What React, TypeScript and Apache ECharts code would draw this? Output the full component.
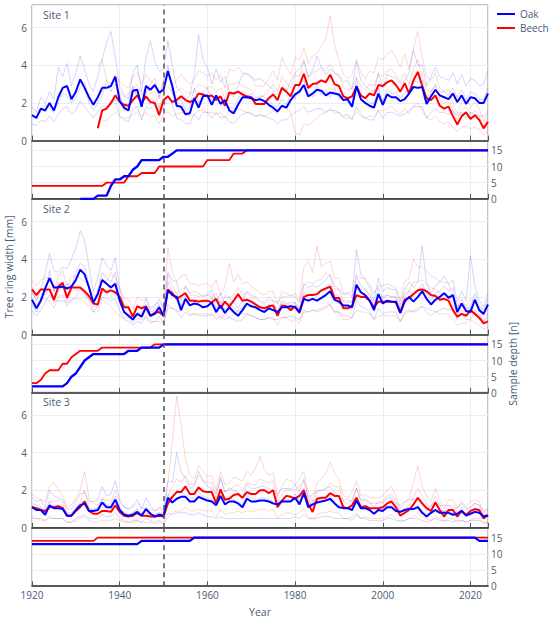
import React, { useEffect, useRef } from "react";
import * as echarts from "echarts";

// ---------- axis / labels ----------
const X_MIN = 1920;
const X_MAX = 2024;
const X_INTERVAL = 20;
const RING_MAX = 7.2;
const DEPTH_MAX = 18;
const SITE_NAMES = ["Site 1", "Site 2", "Site 3"];
const SPECIES = ["Oak", "Beech"];
const MARKER_YEAR = 1950;

// ---------- mean ring width series ----------
const site1OakStart = 1920;
const site1OakMean = [
  1.36, 1.2, 1.7, 1.6, 2.0, 1.6, 2.3, 2.8, 2.9, 2.2,
  2.6, 3.25, 2.8, 2.3, 1.9, 2.3, 2.8, 2.8, 2.9, 3.4,
  2.1, 1.75, 1.6, 2.65, 2.7, 1.8, 2.9, 2.7, 2.95, 2.55,
  2.7, 3.7, 2.9, 1.85, 1.8, 1.4, 1.45, 2.25, 1.75, 2.35,
  2.4, 1.9, 2.4, 1.95, 2.15, 1.6, 1.45, 1.9, 2.3, 2.3,
  2.25, 2.15, 2.2, 2.1, 1.9, 1.75, 1.55, 1.85, 1.75, 2.15,
  2.45, 2.6, 2.95, 2.35, 2.5, 2.7, 2.65, 2.4, 2.55, 2.5,
  2.45, 2.15, 2.2, 1.8, 2.9, 2.2, 2.0, 1.85, 1.75, 2.5,
  1.9, 2.45, 2.3, 2.3, 2.1, 2.2, 2.5, 2.85, 2.8, 2.85,
  1.95, 2.35, 2.7, 2.4, 2.3, 2.2, 2.5, 2.05, 2.4, 1.95,
  2.3, 2.25, 2.0, 2.0, 2.5,
];
const site1BeechStart = 1935;
const site1BeechMean = [
  0.65, 1.6, 1.7, 2.0, 2.4,
  2.05, 1.9, 1.85, 2.15, 2.4, 2.0, 2.35, 2.05, 2.0, 1.35,
  2.15, 2.35, 2.05, 2.15, 2.35, 2.15, 2.05, 2.15, 2.5, 2.45,
  2.35, 2.4, 2.15, 2.35, 1.85, 2.55, 2.5, 2.6, 2.45, 2.35,
  2.3, 1.95, 1.95, 1.95, 2.25, 2.45, 2.15, 2.8, 2.6, 2.35,
  2.95, 2.95, 3.55, 2.8, 3.0, 3.05, 3.2, 3.1, 3.5, 3.0,
  2.9, 2.35, 2.25, 2.35, 2.85, 2.4, 2.25, 2.5, 2.4, 2.95,
  2.9, 3.1, 3.2, 2.95, 2.6, 3.05, 2.5, 3.2, 3.65, 2.9,
  2.25, 2.15, 2.4, 1.85, 1.7, 1.8, 1.3, 0.85, 1.3, 1.5,
  1.15, 1.35, 1.1, 0.65, 1.0,
];
const site2OakStart = 1920;
const site2OakMean = [
  1.85, 1.4, 1.8, 2.45, 3.0, 2.5, 2.5, 2.55, 2.45, 2.55,
  2.9, 3.45, 3.2, 2.5, 1.7, 2.15, 2.9, 2.7, 2.5, 2.7,
  1.8, 1.2, 1.0, 0.8, 1.1, 0.95, 1.45, 1.0, 1.1, 1.45,
  1.0, 2.35, 2.1, 2.0, 1.3, 1.9, 1.55, 1.65, 1.6, 1.45,
  1.5, 1.7, 1.2, 1.55, 1.15, 1.45, 1.2, 1.0, 1.3, 1.65,
  1.5, 1.45, 1.3, 1.2, 1.4, 1.3, 1.2, 1.45, 1.45, 1.5,
  1.45, 1.2, 1.9, 1.8, 1.9, 1.8, 1.95, 2.1, 2.3, 1.85,
  1.75, 1.55, 1.55, 1.45, 2.65, 2.25, 2.1, 1.8, 1.3, 2.15,
  1.65, 1.8, 1.75, 1.75, 1.15, 1.75, 2.0, 1.75, 2.0, 2.3,
  1.9, 1.6, 1.85, 2.0, 2.2, 1.95, 2.1, 1.2, 1.65, 1.25,
  1.2, 1.85, 1.3, 1.1, 1.6,
];
const site2BeechStart = 1920;
const site2BeechMean = [
  2.4, 2.1, 2.4, 2.4, 2.4, 1.85, 2.55, 2.75, 1.95, 2.5,
  2.5, 2.5, 2.3, 2.05, 1.65, 1.6, 2.45, 2.25, 2.35, 2.25,
  2.0, 1.45, 1.45, 0.95, 1.5, 1.4, 1.5, 1.0, 1.15, 1.2,
  1.0, 2.4, 2.2, 1.9, 2.05, 2.2, 1.8, 1.8, 1.75, 1.8,
  1.8, 1.7, 1.9, 1.4, 1.75, 1.5, 1.8, 2.15, 1.8, 1.85,
  1.75, 1.6, 1.45, 1.4, 1.5, 1.55, 1.0, 1.55, 1.5, 1.3,
  1.5, 1.15, 2.0, 2.1, 2.1, 2.15, 2.35, 2.45, 2.55, 1.95,
  1.95, 1.4, 1.4, 1.5, 2.1, 2.0, 2.0, 1.8, 1.45, 1.75,
  1.75, 1.75, 1.75, 1.7, 1.15, 1.85, 1.95, 2.15, 2.35, 2.4,
  2.3, 2.1, 2.05, 1.85, 1.9, 1.8, 1.3, 0.95, 1.1, 1.0,
  1.3, 1.1, 0.9, 0.6, 0.7,
];
const site3OakStart = 1920;
const site3OakMean = [
  1.1, 0.95, 0.95, 0.7, 1.2, 1.05, 1.05, 1.0, 0.65, 0.65,
  0.95, 1.2, 1.3, 0.9, 0.9, 0.95, 1.35, 1.1, 1.1, 1.5,
  0.95, 0.7, 0.65, 0.7, 0.85, 0.65, 1.0, 0.75, 0.6, 0.7,
  0.65, 1.6, 1.35, 1.55, 1.65, 1.65, 1.4, 1.4, 1.65, 1.55,
  1.45, 1.4, 1.2, 1.7, 1.25, 1.4, 1.4, 1.3, 1.1, 1.55,
  1.4, 1.4, 1.45, 1.45, 1.4, 1.3, 1.25, 1.4, 1.4, 1.4,
  1.6, 1.25, 1.85, 1.1, 1.25, 1.35, 1.4, 1.45, 1.55, 1.3,
  1.1, 1.05, 1.05, 0.95, 1.45, 1.05, 1.05, 0.95, 0.75, 0.95,
  0.9, 1.1, 1.1, 0.9, 0.85, 0.95, 1.0, 1.0, 1.1, 0.8,
  0.6, 0.8, 0.95, 0.8, 0.8, 0.8, 0.7, 0.75, 0.9, 0.65,
  0.75, 0.85, 0.8, 0.6, 0.65,
];
const site3BeechStart = 1920;
const site3BeechMean = [
  1.1, 1.05, 0.95, 0.9, 1.1, 1.1, 1.15, 1.05, 0.65, 0.65,
  0.9, 1.1, 1.4, 0.9, 0.75, 0.75, 0.9, 0.9, 0.85, 1.2,
  0.85, 0.65, 0.6, 0.65, 0.8, 0.65, 0.65, 0.6, 0.6, 0.65,
  0.6, 1.3, 1.65, 1.9, 1.9, 2.2, 1.8, 1.8, 2.15, 1.95,
  1.9, 1.9, 1.3, 2.05, 1.5, 1.55, 1.75, 1.8, 1.6, 1.9,
  1.8, 1.8, 2.0, 2.0, 1.85, 2.0, 1.1, 1.45, 1.7, 1.65,
  1.55, 1.7, 2.0, 1.25, 0.85, 1.55, 1.6, 1.6, 1.85, 1.7,
  1.7, 1.1, 1.05, 1.2, 1.6, 1.1, 1.15, 1.05, 1.05, 1.05,
  1.1, 1.3, 1.4, 1.1, 0.65, 0.8, 0.95, 1.25, 1.6, 1.3,
  1.05, 0.9, 1.35, 0.95, 0.6, 0.95, 0.95, 0.6, 0.9, 0.7,
  0.9, 1.0, 0.95, 0.5, 0.7,
];

// ---------- individual trees (faint lines) ----------
const site1OakTreeStarts = [1920, 1920, 1920];
const site1OakTrees = [
  [1.8,1.5,2.3,2.0,2.6,2.2,3.9,3.4,4.1,2.9, 3.6,4.5,3.8,3.0,2.6,3.4,4.3,5.2,5.8,4.4, 2.9,2.4,2.2,3.6,4.0,2.6,4.4,5.3,4.2,3.7, 3.8,5.3,4.0,2.8,2.6,2.2,2.4,3.5,5.6,4.3, 3.9,3.0,3.8,3.1,3.4,2.6,2.3,2.9,3.5,3.6, 3.4,3.2,3.3,3.1,2.9,2.7,2.4,2.8,2.6,3.2, 3.6,3.8,4.3,3.4,3.7,4.5,3.9,3.5,3.8,3.6, 3.5,3.1,3.2,2.7,4.2,3.2,2.9,2.7,2.6,3.6, 2.8,3.5,3.4,3.3,3.0,3.2,3.6,4.8,4.0,4.0, 2.9,3.4,3.9,3.4,3.3,3.2,3.6,3.0,3.5,2.9, 3.3,3.2,2.9,3.0,3.7],
  [0.9,0.8,1.1,1.0,1.3,1.0,1.4,1.7,1.8,1.4, 1.6,2.1,1.8,1.5,1.2,1.5,1.8,1.8,1.9,2.2, 1.3,1.1,1.0,1.7,1.8,1.1,1.8,1.7,1.9,1.6, 1.7,2.4,1.9,1.2,1.1,0.9,0.9,1.4,1.1,1.5, 1.5,1.2,1.5,1.2,1.3,1.0,0.9,1.2,1.4,1.5, 1.4,1.3,1.4,1.3,1.2,1.1,0.9,1.1,1.1,1.3, 1.5,1.6,1.8,1.5,1.6,1.7,1.7,1.5,1.6,1.6, 1.5,1.3,1.4,1.1,1.8,1.4,1.2,1.1,1.1,1.6, 1.2,1.5,1.5,1.4,1.3,1.4,1.6,1.8,1.8,1.8, 1.2,1.5,1.7,1.5,1.5,1.4,1.6,1.3,1.5,1.2, 1.5,1.4,1.3,1.3,1.6],
  [1.2,1.3,1.5,1.9,1.7,1.5,2.0,2.5,2.4,2.0, 2.3,2.8,3.1,2.0,1.6,2.0,2.4,3.2,2.6,3.0, 2.5,1.6,1.9,2.9,2.3,2.1,2.5,3.0,3.3,2.3, 3.2,4.0,2.5,2.0,2.2,1.6,1.8,2.8,2.0,2.6, 2.8,2.1,2.2,2.3,1.9,1.8,1.7,2.2,2.6,2.2, 2.5,2.0,2.4,2.3,2.1,1.9,1.8,2.2,1.9,2.5, 2.2,2.9,3.2,2.6,2.3,3.0,2.4,2.7,2.3,2.8, 2.2,2.4,2.0,2.0,3.3,2.4,2.3,2.0,2.0,2.8, 2.1,2.7,2.5,2.5,2.3,2.5,2.7,3.2,3.1,3.2, 2.2,2.6,3.0,2.6,2.6,2.4,2.8,2.3,2.7,2.2, 2.6,2.5,2.2,2.2,2.8],
];
const site1BeechTreeStarts = [1935, 1936, 1940];
const site1BeechTrees = [
  [3.9,4.3,3.2,3.0,3.5, 3.1,2.9,2.8,3.4,3.6,3.0,3.5,3.2,3.0,2.2, 3.2,3.5,3.0,3.2,3.5,3.2,3.0,3.2,3.7,3.6, 3.4,3.6,3.2,3.5,2.8,3.8,3.7,3.9,3.6,3.5, 3.4,2.9,2.9,2.9,3.3,3.7,3.2,4.4,3.9,3.5, 4.4,4.3,4.9,4.1,4.5,4.6,5.0,5.4,6.6,5.1, 4.3,3.5,3.3,3.5,4.3,3.6,3.3,3.7,3.6,4.4, 4.3,4.6,4.8,4.4,3.9,4.6,3.8,4.9,5.8,4.4, 3.4,3.2,3.6,2.8,2.6,2.7,2.0,1.4,2.0,2.2, 1.8,2.0,1.7,1.0,1.5],
  [1.0,1.1,1.3,1.5, 1.3,1.2,1.2,1.4,1.5,1.3,1.5,1.3,1.3,0.9, 1.4,1.5,1.3,1.4,1.5,1.4,1.3,1.4,1.6,1.6, 1.5,1.5,1.4,1.5,1.2,1.6,1.6,1.7,1.6,1.5, 1.5,1.3,1.3,1.3,1.4,1.6,1.4,1.8,1.7,1.5, 0.4,0.3,0.9,0.8,1.0,1.2,1.4,1.5,1.7,1.5, 1.5,1.2,1.2,1.2,1.5,1.3,1.2,1.3,1.3,1.6, 1.6,1.7,1.8,1.6,1.4,1.7,1.4,1.8,2.0,1.6, 1.2,1.1,1.3,1.0,0.9,1.0,0.7,0.5,0.7,0.8, 0.6,0.7,0.6,0.3,0.5],
  [2.6,2.3,2.5,2.7,3.0,2.4,2.9,2.5,2.6,1.7, 2.6,2.9,2.5,2.6,2.8,2.6,2.5,2.6,3.0,2.9, 2.8,2.9,2.6,2.8,2.2,3.0,3.0,3.1,2.9,2.8, 2.7,2.3,2.3,2.4,2.7,3.0,2.6,3.4,3.1,2.8, 3.5,3.4,4.2,3.3,3.6,3.7,3.9,3.7,4.1,3.6, 3.4,2.8,2.7,2.8,3.4,2.9,2.7,3.0,2.9,3.5, 3.4,3.7,3.8,3.5,3.1,3.6,3.0,3.8,4.3,3.4, 2.7,2.6,2.9,2.2,2.0,2.1,1.6,1.1,1.6,1.8, 1.4,1.6,1.3,0.8,1.2],
];
const site2OakTreeStarts = [1920, 1920, 1920];
const site2OakTrees = [
  [2.3,1.8,2.4,3.3,4.3,3.4,3.3,3.6,3.5,4.0, 4.6,5.5,5.0,3.6,2.3,3.0,4.1,3.7,3.4,4.1, 2.4,1.6,1.3,1.1,1.5,1.3,1.9,1.3,1.5,1.9, 1.4,3.3,2.9,2.8,1.8,2.6,2.2,2.3,2.2,2.0, 2.1,2.4,1.7,2.2,1.6,2.0,1.7,1.4,1.8,2.3, 2.1,2.0,1.8,1.7,2.0,1.8,1.7,2.0,2.0,2.1, 2.0,1.7,2.7,2.5,2.6,2.5,2.7,2.9,3.2,2.6, 2.4,2.1,2.2,2.0,4.5,3.2,2.9,2.5,1.8,3.0, 2.3,2.5,2.4,2.4,1.6,2.4,2.8,2.5,2.8,4.7, 2.7,2.2,2.6,2.8,3.1,2.7,2.9,1.7,2.3,1.8, 4.2,2.6,1.8,1.5,2.2],
  [1.3,1.0,1.3,1.7,2.1,1.8,1.8,1.8,1.7,1.8, 2.0,2.4,2.2,1.8,1.2,1.5,2.0,1.9,1.8,1.9, 1.3,0.8,0.7,0.5,0.7,0.6,1.0,0.7,0.7,1.0, 0.6,1.6,1.4,1.3,0.9,1.2,1.0,1.1,1.0,1.0, 1.0,1.1,0.8,1.0,0.8,0.9,0.8,0.7,0.8,1.1, 1.0,0.9,0.8,0.8,0.9,0.8,0.8,0.9,0.9,1.0, 0.9,0.8,1.3,1.2,1.3,1.2,1.3,1.4,1.6,1.2, 1.2,1.0,1.0,0.9,1.8,1.5,1.4,1.2,0.8,1.4, 1.1,1.2,1.2,1.2,0.7,1.2,1.3,1.2,1.3,1.5, 1.2,1.0,1.2,1.3,1.4,1.3,1.4,0.8,1.1,0.8, 0.8,1.2,0.8,0.7,1.0],
  [1.6,1.2,1.7,2.2,3.4,2.3,2.7,2.4,2.7,2.6, 3.3,3.8,3.6,2.7,1.6,2.4,3.3,3.0,2.8,3.3, 1.9,1.3,1.1,0.9,1.2,1.1,1.6,1.2,1.3,1.6, 0.9,2.8,2.3,2.2,1.5,2.1,1.8,1.9,1.8,1.7, 1.7,2.0,1.4,1.8,1.3,1.7,1.4,1.2,1.5,1.9, 1.7,1.7,1.5,1.4,1.6,1.5,1.4,1.7,1.6,1.7, 1.7,1.4,2.2,2.1,2.2,2.0,2.3,2.4,2.7,2.2, 2.0,1.8,1.8,1.7,3.1,2.6,2.4,2.1,1.5,2.5, 1.9,2.1,2.0,2.0,1.3,2.0,2.3,2.0,2.3,2.7, 2.2,1.8,2.2,2.3,2.6,2.3,2.5,1.4,1.9,1.4, 1.4,2.2,1.5,1.3,1.9],
];
const site2BeechTreeStarts = [1920, 1920, 1920];
const site2BeechTrees = [
  [2.9,2.6,2.9,3.0,3.0,2.3,3.1,3.4,2.5,3.1, 3.1,3.0,2.8,2.6,2.1,2.0,3.0,2.8,3.3,3.0, 2.5,1.9,1.9,1.3,2.0,1.8,2.0,1.4,1.6,1.7, 1.5,4.6,3.3,2.8,3.1,3.2,2.7,2.7,2.6,2.7, 2.7,2.5,2.9,2.1,2.6,3.8,2.8,3.2,2.7,2.8, 2.6,2.4,2.2,2.1,2.3,2.3,1.6,2.3,2.2,2.0, 2.2,1.8,3.6,3.9,3.3,4.7,3.6,3.8,3.9,3.0, 3.0,2.2,2.2,2.3,3.2,3.0,3.0,2.7,2.2,2.6, 2.6,2.7,2.6,2.5,1.8,2.8,3.0,4.0,3.6,3.6, 3.4,3.1,3.0,2.8,2.8,2.7,2.0,1.5,1.7,1.5, 1.9,1.7,1.4,1.0,1.1],
  [1.8,1.6,1.9,1.9,1.8,1.4,2.0,2.1,1.5,1.9, 1.9,1.9,1.7,1.5,1.2,1.2,1.9,1.7,1.5,1.2, 1.0,0.9,0.9,0.6,0.9,0.8,0.9,0.6,0.7,0.7, 0.6,1.4,1.4,1.2,1.3,1.4,1.1,1.1,1.1,1.1, 1.1,1.0,1.2,0.8,1.1,0.9,1.1,1.3,1.1,1.1, 1.0,0.9,0.8,0.8,0.9,0.9,0.5,0.9,0.9,0.7, 0.8,0.6,1.2,1.2,1.3,1.3,1.4,1.5,1.6,1.2, 1.2,0.8,0.8,0.9,1.3,1.2,1.2,1.1,0.8,1.0, 1.0,1.0,1.0,1.0,0.7,1.1,1.2,1.3,1.4,1.5, 1.4,1.3,1.2,1.1,1.1,1.1,0.8,0.5,0.6,0.6, 0.8,0.6,0.5,0.3,0.4],
  [2.2,1.9,2.2,2.1,2.6,1.7,2.3,2.6,1.8,2.3, 2.4,2.4,2.1,1.9,1.5,1.5,2.3,2.1,2.6,2.5, 2.1,1.4,1.5,1.0,1.6,1.4,1.5,1.0,1.2,1.3, 1.1,3.2,2.6,2.2,2.4,2.5,2.1,2.1,2.0,2.1, 2.1,2.0,2.2,1.6,2.0,2.0,2.1,2.5,2.1,2.2, 2.0,1.9,1.7,1.6,1.8,1.8,1.2,1.8,1.7,1.5, 1.7,1.3,2.6,2.8,2.7,2.9,2.9,3.3,3.1,2.4, 2.4,1.7,1.7,1.8,2.5,2.4,2.4,2.1,1.7,2.0, 2.0,2.1,2.0,2.0,1.4,2.2,2.3,2.8,2.8,2.9, 2.7,2.5,2.4,2.2,2.2,2.1,1.6,1.1,1.3,1.2, 1.5,1.3,1.1,0.7,0.9],
];
const site3OakTreeStarts = [1920, 1920, 1920];
const site3OakTrees = [
  [1.6,1.4,1.5,1.1,2.0,1.7,1.6,1.5,1.0,1.0, 1.4,1.8,1.9,1.4,1.4,1.5,2.2,1.7,1.8,2.5, 1.5,1.1,1.0,1.2,1.5,1.0,1.6,1.2,0.9,1.1, 1.0,2.5,2.4,4.0,3.0,2.6,2.1,2.2,3.0,2.5, 2.2,2.1,1.8,2.6,1.9,2.1,2.0,1.9,1.6,2.3, 2.1,2.1,2.2,2.2,2.1,2.0,1.8,2.1,2.1,2.0, 2.3,1.9,2.6,1.6,1.8,1.9,2.0,2.1,2.2,1.9, 1.6,1.5,1.5,1.4,2.1,1.5,1.5,1.4,1.1,1.4, 1.3,1.6,1.6,1.3,1.2,1.4,1.5,1.5,1.6,1.2, 0.9,1.2,1.4,1.2,1.2,1.2,1.0,1.1,1.3,1.0, 1.1,1.3,1.2,0.9,1.0],
  [0.6,0.5,0.5,0.4,0.6,0.5,0.5,0.5,0.3,0.3, 0.5,0.6,0.7,0.5,0.5,0.5,0.7,0.6,0.6,0.8, 0.5,0.4,0.3,0.4,0.4,0.3,0.5,0.4,0.3,0.4, 0.3,0.8,0.7,0.8,0.8,0.8,0.7,0.7,0.8,0.7, 0.6,0.6,0.5,0.6,0.5,0.5,0.5,0.5,0.5,0.5, 0.5,0.5,0.5,0.5,0.5,0.5,0.5,0.5,0.5,0.5, 0.6,0.5,0.7,0.5,0.5,0.5,0.6,0.6,0.6,0.5, 0.5,0.5,0.5,0.4,0.7,0.5,0.5,0.4,0.4,0.4, 0.4,0.5,0.5,0.4,0.4,0.4,0.5,0.5,0.5,0.4, 0.3,0.4,0.5,0.4,0.4,0.4,0.3,0.4,0.4,0.3, 0.4,0.4,0.4,0.3,0.3],
  [1.2,1.0,1.1,0.8,1.4,1.2,1.2,1.1,0.7,0.7, 1.0,1.3,1.5,1.0,1.0,1.1,1.6,1.2,1.3,1.7, 1.1,0.8,0.7,0.8,1.0,0.7,1.1,0.8,0.7,0.8, 0.7,1.8,1.5,2.0,1.9,1.8,1.6,1.6,1.9,1.7, 1.6,1.5,1.3,1.9,1.4,1.6,1.5,1.4,1.2,1.7, 1.6,1.5,1.6,1.6,1.5,1.4,1.4,1.5,1.5,1.5, 1.8,1.4,2.1,1.2,1.4,1.5,1.5,1.6,1.7,1.4, 1.2,1.1,1.1,1.0,1.6,1.2,1.1,1.0,0.8,1.0, 1.0,1.2,1.2,1.0,0.9,1.0,1.1,1.1,1.2,0.9, 0.7,0.9,1.0,0.9,0.9,0.9,0.8,0.8,1.0,0.7, 0.8,0.9,0.9,0.7,0.7],
];
const site3BeechTreeStarts = [1920, 1920, 1920];
const site3BeechTrees = [
  [1.8,1.6,1.5,1.4,2.2,2.4,2.0,1.7,1.1,1.2, 1.6,2.0,3.0,1.6,1.3,1.2,1.5,1.5,1.4,2.0, 1.4,1.1,1.0,1.1,1.3,1.1,1.0,1.0,0.9,1.0, 0.9,2.4,4.5,7.0,5.5,3.6,2.8,2.6,3.3,3.0, 2.7,2.8,2.0,3.0,2.3,2.4,2.7,2.6,2.5,3.0, 2.8,3.2,3.8,3.1,2.8,2.9,1.7,2.2,2.6,2.5, 2.3,2.6,3.0,1.9,1.4,2.4,2.6,2.9,3.5,2.9, 2.6,1.7,1.6,1.9,2.5,1.7,1.8,1.6,1.6,1.6, 1.7,2.0,2.2,1.7,1.0,1.3,1.6,2.4,3.3,2.2, 1.7,1.4,2.1,1.5,1.0,1.5,1.5,1.0,1.4,1.1, 1.4,1.5,1.4,0.8,1.0],
  [0.5,0.5,0.4,0.4,0.5,0.5,0.5,0.5,0.3,0.3, 0.4,0.5,0.6,0.4,0.3,0.3,0.4,0.4,0.4,0.5, 0.4,0.3,0.3,0.3,0.4,0.3,0.3,0.3,0.2,0.3, 0.2,0.6,0.8,0.9,0.9,1.1,0.9,0.9,1.0,0.9, 0.9,0.9,0.6,1.0,0.7,0.8,0.8,0.9,0.8,0.9, 0.9,0.9,1.0,1.0,0.9,1.0,0.5,0.7,0.8,0.8, 0.7,0.8,1.0,0.6,0.4,0.7,0.8,0.8,0.9,0.8, 0.8,0.5,0.5,0.6,0.8,0.5,0.6,0.5,0.5,0.5, 0.5,0.6,0.7,0.5,0.3,0.4,0.5,0.6,0.8,0.6, 0.5,0.4,0.6,0.5,0.3,0.5,0.5,0.3,0.4,0.3, 0.4,0.5,0.5,0.2,0.3],
  [1.3,1.2,1.1,1.0,1.4,1.4,1.5,1.3,0.8,0.8, 1.1,1.4,2.0,1.1,0.9,0.9,1.1,1.1,1.0,1.5, 1.0,0.8,0.7,0.8,1.0,0.8,0.8,0.7,0.7,0.8, 0.7,1.7,2.2,2.6,2.4,2.8,2.3,2.3,2.8,2.5, 2.4,2.4,1.6,2.7,1.9,2.0,2.2,2.3,2.0,2.4, 2.3,2.3,2.6,2.5,2.4,2.5,1.4,1.8,2.1,2.1, 2.0,2.2,2.5,1.6,1.1,2.0,2.0,2.0,2.4,2.2, 2.2,1.4,1.3,1.5,2.1,1.4,1.5,1.3,1.3,1.3, 1.4,1.7,1.8,1.4,0.8,1.0,1.2,1.6,2.1,1.7, 1.3,1.1,1.7,1.2,0.8,1.2,1.2,0.8,1.1,0.9, 1.1,1.3,1.2,0.6,0.9],
];

// ---------- sample depth (break points) ----------
const site1OakDepthYears = [1931, 1934, 1935, 1937, 1938, 1939, 1940, 1941, 1942, 1943, 1944, 1945, 1949, 1950, 1951, 1952, 1953, 2024];
const site1OakDepthValues = [0, 0, 1, 1, 4, 6, 6, 7, 7, 9, 10, 12, 12, 13, 13, 14, 15, 15];
const site1BeechDepthYears = [1920, 1936, 1937, 1941, 1942, 1944, 1945, 1948, 1949, 1959, 1960, 1965, 1966, 1968, 1969, 2024];
const site1BeechDepthValues = [4, 4, 5, 5, 7, 7, 8, 8, 10, 10, 12, 12, 14, 14, 15, 15];
const site2OakDepthYears = [1920, 1927, 1928, 1929, 1930, 1931, 1932, 1933, 1934, 1941, 1942, 1944, 1945, 1949, 1950, 2024];
const site2OakDepthValues = [2, 2, 3, 5, 6, 8, 10, 11, 12, 12, 13, 13, 14, 14, 15, 15];
const site2BeechDepthYears = [1920, 1921, 1922, 1923, 1924, 1926, 1927, 1928, 1929, 1930, 1931, 1935, 1936, 1947, 1948, 2024];
const site2BeechDepthValues = [3, 3, 4, 6, 7, 7, 9, 9, 11, 12, 13, 13, 14, 14, 15, 15];
const site3OakDepthYears = [1920, 1944, 1945, 1956, 1957, 2021, 2022, 2024];
const site3OakDepthValues = [13, 13, 14, 14, 15, 15, 14, 14];
const site3BeechDepthYears = [1920, 1934, 1935, 2024];
const site3BeechDepthValues = [14, 14, 15, 15];

// ---------- assembly ----------
const yearly = (values: number[], start: number) => values.map((v, i) => [start + i, v]);
const stepped = (years: number[], values: number[]) => years.map((y, i) => [y, values[i]]);

const sites = [
  {
    oakMean: yearly(site1OakMean, site1OakStart),
    beechMean: yearly(site1BeechMean, site1BeechStart),
    oakTrees: site1OakTrees.map((t, i) => yearly(t, site1OakTreeStarts[i])),
    beechTrees: site1BeechTrees.map((t, i) => yearly(t, site1BeechTreeStarts[i])),
    oakDepth: stepped(site1OakDepthYears, site1OakDepthValues),
    beechDepth: stepped(site1BeechDepthYears, site1BeechDepthValues),
  },
  {
    oakMean: yearly(site2OakMean, site2OakStart),
    beechMean: yearly(site2BeechMean, site2BeechStart),
    oakTrees: site2OakTrees.map((t, i) => yearly(t, site2OakTreeStarts[i])),
    beechTrees: site2BeechTrees.map((t, i) => yearly(t, site2BeechTreeStarts[i])),
    oakDepth: stepped(site2OakDepthYears, site2OakDepthValues),
    beechDepth: stepped(site2BeechDepthYears, site2BeechDepthValues),
  },
  {
    oakMean: yearly(site3OakMean, site3OakStart),
    beechMean: yearly(site3BeechMean, site3BeechStart),
    oakTrees: site3OakTrees.map((t, i) => yearly(t, site3OakTreeStarts[i])),
    beechTrees: site3BeechTrees.map((t, i) => yearly(t, site3BeechTreeStarts[i])),
    oakDepth: stepped(site3OakDepthYears, site3OakDepthValues),
    beechDepth: stepped(site3BeechDepthYears, site3BeechDepthValues),
  },
];

const FONT = '"Open Sans", "DejaVu Sans", sans-serif';
const TEXT_COLOR = "#4a5a78";
const OAK = "#0000ff";
const BEECH = "#ff0000";
const OAK_FAINT = "rgba(0,0,255,0.17)";
const BEECH_FAINT = "rgba(255,0,0,0.17)";

const GRID_LEFT = 32;
const GRID_RIGHT = 62;
const SITE_TOPS = [5, 199, 392.3];
const RING_H = 135.6;
const DEPTH_H = 58.3;

function buildOption() {
  const grid: any[] = [];
  const xAxis: any[] = [];
  const yAxis: any[] = [];
  const series: any[] = [];
  const graphic: any[] = [];

  const markLine = {
    silent: true,
    symbol: "none",
    label: { show: false },
    lineStyle: { color: "#555", type: [5, 4], width: 1.5 },
    data: [{ xAxis: MARKER_YEAR }],
  };

  sites.forEach((s, k) => {
    const gRing = 2 * k;
    const gDepth = 2 * k + 1;
    grid.push({
      left: GRID_LEFT, right: GRID_RIGHT, top: SITE_TOPS[k], height: RING_H,
      show: true, borderColor: "#8a8a8a", borderWidth: 1,
    });
    grid.push({
      left: GRID_LEFT, right: GRID_RIGHT, top: SITE_TOPS[k] + RING_H, height: DEPTH_H,
      show: true, borderColor: "#8a8a8a", borderWidth: 1,
    });
    [gRing, gDepth].forEach((g) => {
      xAxis.push({
        type: "value", gridIndex: g, min: X_MIN, max: X_MAX, interval: X_INTERVAL,
        axisLine: { show: true, onZero: false, lineStyle: { color: "#2b2b2b", width: 1.6 } },
        axisTick: { show: true, inside: true, length: 5, lineStyle: { color: "#555" } },
        axisLabel: {
          show: g === 5, color: TEXT_COLOR, fontFamily: FONT, fontSize: 10, margin: 4,
          showMaxLabel: false,
          formatter: (v: number) => (v % X_INTERVAL === 0 ? String(v) : ""),
        },
        splitLine: { show: true, lineStyle: { color: "#e9edf4", width: 1 } },
      });
    });
    yAxis.push({
      type: "value", gridIndex: gRing, min: 0, max: RING_MAX, interval: 2, position: "left",
      axisLine: { show: false }, axisTick: { show: false },
      axisLabel: {
        color: TEXT_COLOR, fontFamily: FONT, fontSize: 10, margin: 5, showMaxLabel: false,
        formatter: (v: number) => (v % 2 === 0 ? String(v) : ""),
      },
      splitLine: { show: true, lineStyle: { color: "#e9edf4", width: 1 } },
    });
    yAxis.push({
      type: "value", gridIndex: gDepth, min: 0, max: DEPTH_MAX, interval: 5, position: "right",
      axisLine: { show: false }, axisTick: { show: false },
      axisLabel: {
        color: TEXT_COLOR, fontFamily: FONT, fontSize: 10, margin: 3, showMaxLabel: false,
        formatter: (v: number) => (v % 5 === 0 ? String(v) : ""),
      },
      splitLine: { show: true, lineStyle: { color: "#e9edf4", width: 1 } },
    });

    s.beechTrees.forEach((d, i) => {
      series.push({
        type: "line", name: `beech-tree-${k}-${i}`, xAxisIndex: gRing, yAxisIndex: gRing,
        data: d, showSymbol: false, symbol: "none", silent: true, z: 1,
        lineStyle: { color: BEECH_FAINT, width: 1 },
      });
    });
    s.oakTrees.forEach((d, i) => {
      series.push({
        type: "line", name: `oak-tree-${k}-${i}`, xAxisIndex: gRing, yAxisIndex: gRing,
        data: d, showSymbol: false, symbol: "none", silent: true, z: 1,
        lineStyle: { color: OAK_FAINT, width: 1 },
      });
    });
    series.push({
      type: "line", name: SPECIES[1], xAxisIndex: gRing, yAxisIndex: gRing,
      data: s.beechMean, showSymbol: false, symbol: "none", z: 3,
      lineStyle: { color: BEECH, width: 2 }, itemStyle: { color: BEECH },
    });
    series.push({
      type: "line", name: SPECIES[0], xAxisIndex: gRing, yAxisIndex: gRing,
      data: s.oakMean, showSymbol: false, symbol: "none", z: 3,
      lineStyle: { color: OAK, width: 2 }, itemStyle: { color: OAK },
      markLine,
    });
    series.push({
      type: "line", name: `beech-depth-${k}`, xAxisIndex: gDepth, yAxisIndex: gDepth,
      data: s.beechDepth, showSymbol: false, symbol: "none", z: 3,
      lineStyle: { color: BEECH, width: 1.8 },
    });
    series.push({
      type: "line", name: `oak-depth-${k}`, xAxisIndex: gDepth, yAxisIndex: gDepth,
      data: s.oakDepth, showSymbol: false, symbol: "none", z: 4,
      lineStyle: { color: OAK, width: 2.3 },
      markLine,
    });

    graphic.push({
      type: "text", x: 43, y: SITE_TOPS[k] + 10, z: 10,
      style: {
        text: SITE_NAMES[k], fill: TEXT_COLOR, font: `10.5px ${FONT}`,
        textAlign: "left", textVerticalAlign: "middle",
      },
    });
  });

  graphic.push({
    type: "text", x: 9, y: SITE_TOPS[1] + RING_H / 2, rotation: Math.PI / 2, z: 10,
    style: {
      text: "Tree ring width [mm]", fill: TEXT_COLOR, font: `10.5px ${FONT}`,
      textAlign: "center", textVerticalAlign: "middle",
    },
  });
  graphic.push({
    type: "text", x: 513, y: SITE_TOPS[1] + RING_H + DEPTH_H / 2, rotation: Math.PI / 2, z: 10,
    style: {
      text: "Sample depth [n]", fill: TEXT_COLOR, font: `10.5px ${FONT}`,
      textAlign: "center", textVerticalAlign: "middle",
    },
  });
  graphic.push({
    type: "text", x: GRID_LEFT + (550 - GRID_LEFT - GRID_RIGHT) / 2, y: 612, z: 10,
    style: {
      text: "Year", fill: TEXT_COLOR, font: `10.5px ${FONT}`,
      textAlign: "center", textVerticalAlign: "middle",
    },
  });

  return {
    animation: false,
    backgroundColor: "#ffffff",
    grid,
    xAxis,
    yAxis,
    series,
    graphic,
    legend: {
      data: SPECIES.map((n) => ({ name: n })),
      orient: "vertical",
      left: 497,
      top: 8,
      padding: 0,
      icon: "rect",
      itemWidth: 18,
      itemHeight: 2,
      itemGap: 2,
      selectedMode: false,
      textStyle: { color: TEXT_COLOR, fontFamily: FONT, fontSize: 10, lineHeight: 12 },
    },
  };
}

export default function App() {
  const ref = useRef<HTMLDivElement>(null);
  useEffect(() => {
    if (!ref.current) return;
    const chart = echarts.init(ref.current, undefined, { renderer: "svg" });
    chart.setOption(buildOption() as any);
    return () => chart.dispose();
  }, []);
  return (
    <div
      ref={ref}
      style={{ position: "absolute", left: 0, top: 0, width: 550, height: 621 }}
    />
  );
}
